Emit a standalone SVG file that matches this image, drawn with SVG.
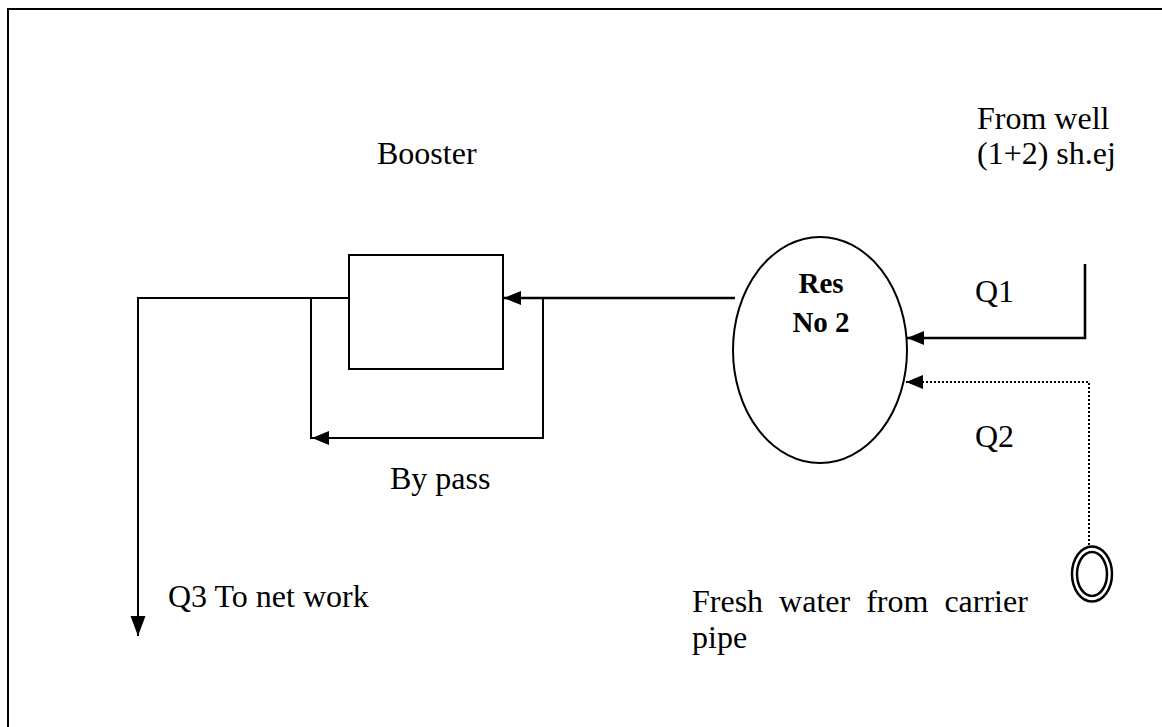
<svg xmlns="http://www.w3.org/2000/svg" width="1162" height="727" viewBox="0 0 1162 727">
  <style>
    .ln { fill: none; stroke: #000; stroke-width: 2; }
    .lnb { fill: none; stroke: #000; stroke-width: 2.6; }
    .dot { fill: none; stroke: #000; stroke-width: 2; stroke-dasharray: 2 2; }
    .shape { fill: #fff; stroke: #000; stroke-width: 2; }
    .t { font-family: "Liberation Serif", "Times New Roman", serif; font-size: 32px; fill: #000; }
    .tb { font-family: "Liberation Serif", "Times New Roman", serif; font-size: 29px; font-weight: bold; fill: #000; }
  </style>
  <defs>
    <marker id="arr" markerUnits="userSpaceOnUse" markerWidth="19" markerHeight="15" refX="17" refY="7" orient="auto">
      <path d="M0,0 L17,7 L0,14 z" fill="#000"/>
    </marker>
    <marker id="arrL" markerUnits="userSpaceOnUse" markerWidth="22" markerHeight="16" refX="20" refY="7.5" orient="auto">
      <path d="M0,0 L20,7.5 L0,15 z" fill="#000"/>
    </marker>
  </defs>
  <rect width="1162" height="727" fill="#fff"/>
  <rect x="8" y="9" width="1170" height="740" fill="none" stroke="#000" stroke-width="2"/>

  <g id="connectors">
    <line class="lnb" x1="735" y1="298" x2="504" y2="298" marker-end="url(#arr)"/>
    <polyline class="ln" points="349,298 138,298 138,636" marker-end="url(#arrL)"/>
    <polyline class="ln" points="543,298 543,438 312,438" marker-end="url(#arr)"/>
    <line class="ln" x1="311" y1="298" x2="311" y2="439"/>
    <polyline class="lnb" points="1085,264 1085,338 907,338" marker-end="url(#arr)"/>
    <polyline class="dot" points="1089,545 1089,382 906,382" marker-end="url(#arr)"/>
  </g>

  <g id="booster">
    <rect class="shape" x="349" y="255" width="154" height="114"/>
    <text class="t" x="377" y="164">Booster</text>
  </g>

  <g id="reservoir">
    <ellipse class="shape" cx="820" cy="350" rx="87" ry="113"/>
    <text class="tb" x="821" y="293" text-anchor="middle">Res</text>
    <text class="tb" x="821" y="332" text-anchor="middle">No 2</text>
  </g>

  <g id="well">
    <text class="t" x="977" y="129">From well</text>
    <text class="t" x="977" y="164">(1+2) sh.ej</text>
  </g>

  <g id="carrier-pipe">
    <ellipse cx="1092" cy="574" rx="20" ry="27.5" fill="none" stroke="#000" stroke-width="2.5"/>
    <ellipse cx="1092" cy="574" rx="15" ry="22" fill="none" stroke="#000" stroke-width="2.5"/>
    <text class="t" x="692" y="612" word-spacing="8">Fresh water from carrier</text>
    <text class="t" x="692" y="648">pipe</text>
  </g>

  <g id="labels">
    <text class="t" x="975" y="302">Q1</text>
    <text class="t" x="975" y="447">Q2</text>
    <text class="t" x="390" y="489">By pass</text>
    <text class="t" x="168" y="607">Q3 To net work</text>
  </g>
</svg>
